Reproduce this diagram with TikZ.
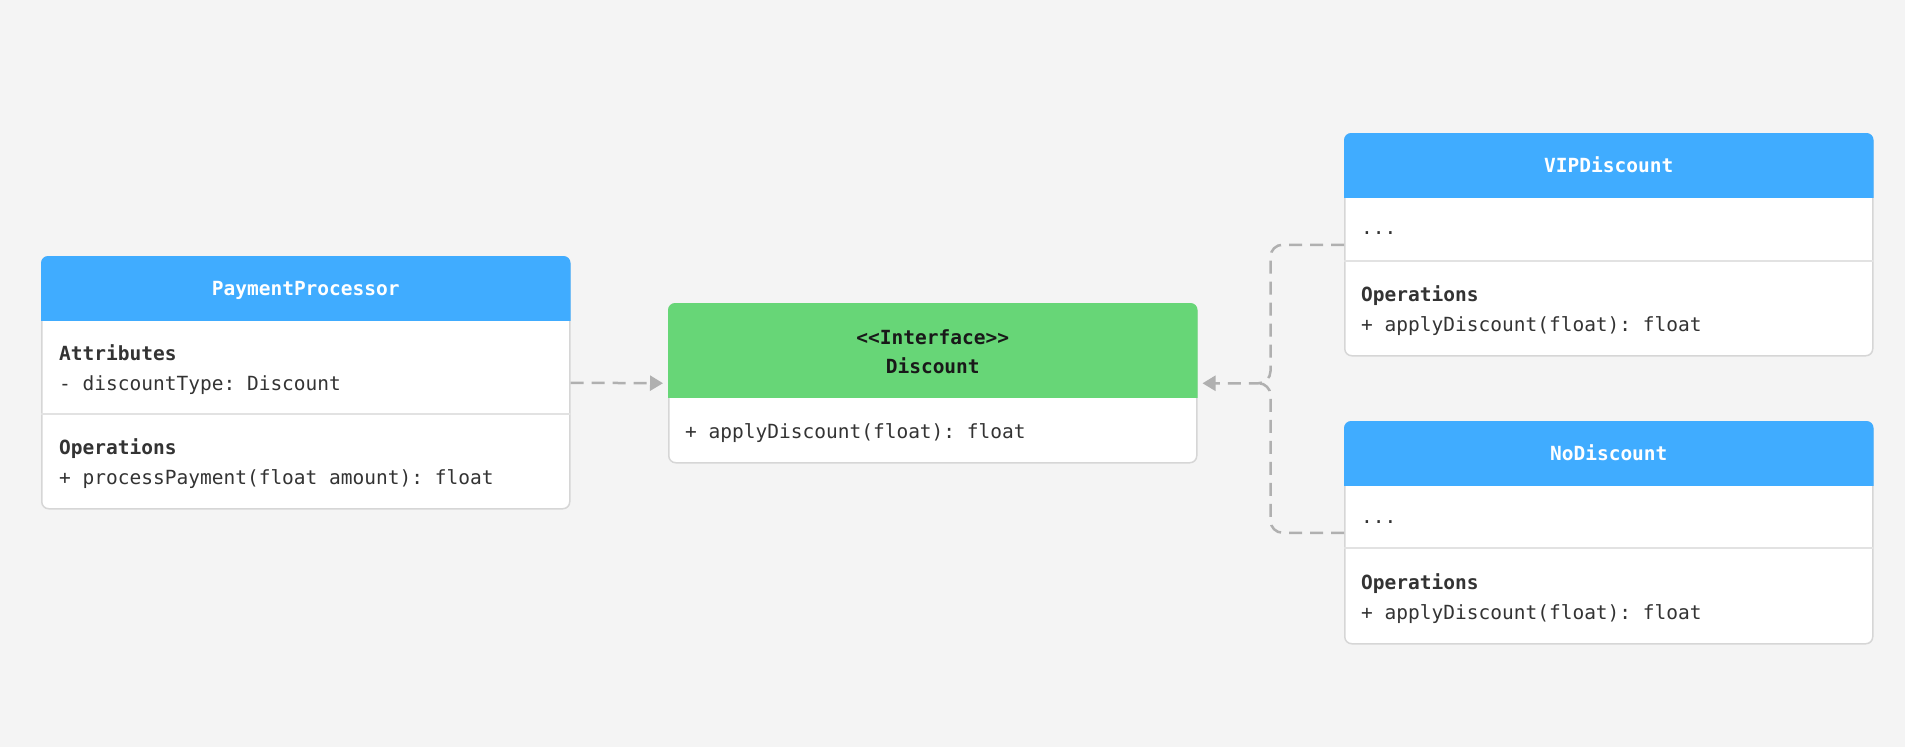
\documentclass[tikz,border=0pt]{standalone}
\usepackage{fontspec}
\setmonofont{DejaVu Sans Mono}
\usetikzlibrary{arrows.meta}

\definecolor{canvas}{HTML}{F4F4F4}
\definecolor{headblue}{HTML}{40ACFF}
\definecolor{headgreen}{HTML}{67D677}
\definecolor{boxline}{HTML}{D6D6D6}
\definecolor{sepline}{HTML}{E2E2E2}
\definecolor{linkgray}{HTML}{B0B0B0}
\definecolor{ink}{HTML}{333333}

\tikzset{
  classbox/.style={draw=boxline, line width=1.5pt, fill=white, rounded corners=7pt, anchor=north west, inner sep=0pt},
  headtext/.style={font=\ttfamily\bfseries\fontsize{19.5}{23}\selectfont, text=white, inner sep=0pt, text height=14.2pt, text depth=0pt},
  member/.style={font=\ttfamily\fontsize{19.5}{23}\selectfont, text=ink, anchor=west, inner sep=0pt, text height=14.2pt, text depth=0pt},
  sectionhead/.style={member, font=\ttfamily\bfseries\fontsize{19.5}{23}\selectfont},
  divider/.style={draw=sepline, line width=1.5pt},
  dependency/.style={draw=linkgray, line width=2.5pt, dash pattern=on 13pt off 8pt, -{Triangle[length=13pt,width=15pt]}, shorten >=5pt},
}

\begin{document}
\begin{tikzpicture}[x=1pt, y=-1pt]
  % Fundo
  \fill[canvas] (0,0) rectangle (1905,747);

  % PaymentProcessor
  \node[classbox, minimum width=528, minimum height=252] (proc) at (41,256) {};
  \begin{scope}
    \clip (proc.north west) rectangle (proc.east |- 0,320);
    \fill[headblue, rounded corners=7pt] (proc.north west) rectangle (proc.south east);
  \end{scope}
  \draw[divider] (proc.west |- 0,414) -- (proc.east |- 0,414);
  \node[headtext] (proc-title) at (proc.north |- 0,288) {PaymentProcessor};
  \node[sectionhead] (proc-attr) at (59,353) {Attributes};
  \node[member] (proc-field) at (59,383) {- discountType: Discount};
  \node[sectionhead] (proc-ops) at (59,447) {Operations};
  \node[member] (proc-op) at (59,477) {+ processPayment(float amount): float};

  % Discount (interface)
  \node[classbox, minimum width=528, minimum height=159] (disc) at (668,303) {};
  \begin{scope}
    \clip (disc.north west) rectangle (disc.east |- 0,397);
    \fill[headgreen, rounded corners=7pt] (disc.north west) rectangle (disc.south east);
  \end{scope}
  \node[headtext, text=black!90] (disc-stereo) at (disc.north |- 0,337) {<<Interface>>};
  \node[headtext, text=black!90] (disc-title) at (disc.north |- 0,366) {Discount};
  \node[member] (disc-op) at (685,431) {+ applyDiscount(float): float};

  % VIPDiscount
  \node[classbox, minimum width=528, minimum height=222] (vip) at (1344,133) {};
  \begin{scope}
    \clip (vip.north west) rectangle (vip.east |- 0,197);
    \fill[headblue, rounded corners=7pt] (vip.north west) rectangle (vip.south east);
  \end{scope}
  \draw[divider] (vip.west |- 0,261) -- (vip.east |- 0,261);
  \node[headtext] (vip-title) at (vip.north |- 0,165) {VIPDiscount};
  \node[member] (vip-field) at (1361,227) {...};
  \node[sectionhead] (vip-ops) at (1361,294) {Operations};
  \node[member] (vip-op) at (1361,324) {+ applyDiscount(float): float};

  % NoDiscount
  \node[classbox, minimum width=528, minimum height=222] (nodisc) at (1344,421) {};
  \begin{scope}
    \clip (nodisc.north west) rectangle (nodisc.east |- 0,485);
    \fill[headblue, rounded corners=7pt] (nodisc.north west) rectangle (nodisc.south east);
  \end{scope}
  \draw[divider] (nodisc.west |- 0,548) -- (nodisc.east |- 0,548);
  \node[headtext] (nodisc-title) at (nodisc.north |- 0,453) {NoDiscount};
  \node[member] (nodisc-field) at (1361,516) {...};
  \node[sectionhead] (nodisc-ops) at (1361,582) {Operations};
  \node[member] (nodisc-op) at (1361,612) {+ applyDiscount(float): float};

  % Dependencias
  \draw[dependency] (proc.east) -- (disc.west);
  \coordinate (join) at ([xshift=73pt]disc.east);
  \draw[dependency, rounded corners=12pt] (vip.west) -| (join) -- (disc.east);
  \draw[dependency, rounded corners=12pt, -] (nodisc.west) -| (join) -- ([xshift=-22pt]join);
\end{tikzpicture}
\end{document}
